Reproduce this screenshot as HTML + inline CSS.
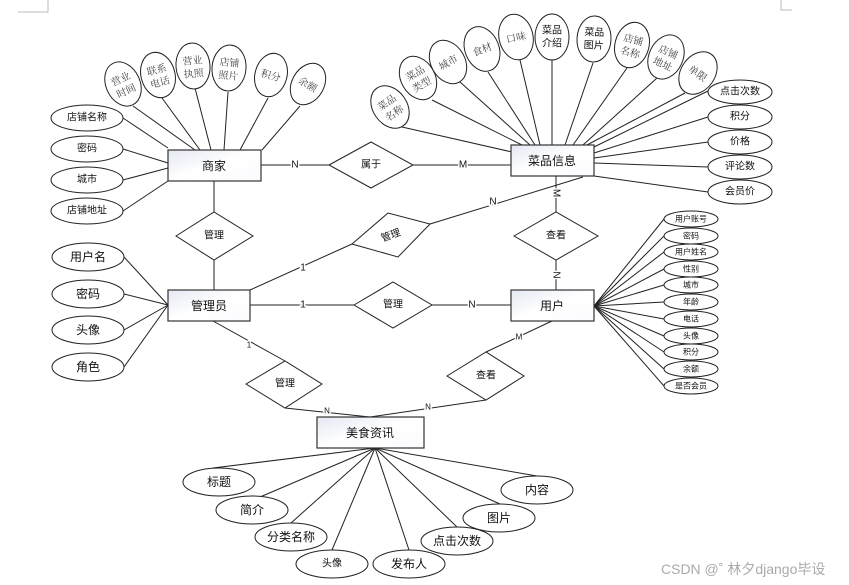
<!DOCTYPE html>
<html><head><meta charset="utf-8"><style>
html,body{margin:0;padding:0;background:#fff;}
svg{display:block;font-family:"Liberation Sans","Noto Sans CJK SC",sans-serif;}
.l{stroke:#222;stroke-width:1;fill:none}
.e{fill:#fff;stroke:#222;stroke-width:1}
.r{fill:url(#g);stroke:#333;stroke-width:1.2}
.d{fill:#fff;stroke:#222;stroke-width:1}
.t{font-size:10px;fill:#111;text-anchor:middle;dominant-baseline:central}
.s{font-family:"Liberation Serif","Noto Serif CJK SC",serif;font-size:10px;fill:#444;text-anchor:middle}
.b{font-size:12px;fill:#111;text-anchor:middle;dominant-baseline:central}
.c{font-size:10px;fill:#111;text-anchor:middle;dominant-baseline:central;paint-order:stroke;stroke:#fff;stroke-width:3px}
</style></head><body>
<svg width="849" height="585" viewBox="0 0 849 585">
<defs><linearGradient id="g" x1="0" y1="0" x2="1" y2="1"><stop offset="0" stop-color="#e4e8f2"/><stop offset="0.5" stop-color="#fff"/><stop offset="1" stop-color="#fafbfd"/></linearGradient></defs>
<path d="M18 12H48V0" class="l" stroke="#bbb" style="stroke:#bbb"/>
<path d="M781 0V10H792" style="stroke:#bbb;fill:none"/>
<!-- lines -->
<g class="l">
<line x1="261" y1="165" x2="329" y2="165"/><line x1="413" y1="165" x2="511" y2="165"/>
<line x1="214" y1="181" x2="214" y2="212"/><line x1="214" y1="260" x2="214" y2="290"/>
<line x1="250" y1="290" x2="352" y2="244"/><line x1="430" y1="224" x2="583" y2="177"/>
<line x1="556" y1="176" x2="556" y2="212"/><line x1="556" y1="260" x2="556" y2="290"/>
<line x1="250" y1="305" x2="354" y2="305"/><line x1="432" y1="305" x2="511" y2="305"/>
<line x1="213" y1="321" x2="285" y2="361"/><line x1="285" y1="408" x2="370" y2="417"/>
<line x1="552" y1="321" x2="486" y2="352"/><line x1="486" y1="400" x2="370" y2="417"/>
<!-- 商家 attrs -->
<line x1="123" y1="118" x2="168" y2="148"/><line x1="123" y1="149" x2="168" y2="163"/><line x1="123" y1="180" x2="168" y2="168"/><line x1="123" y1="211" x2="168" y2="181"/>
<line x1="133" y1="106" x2="195" y2="150"/><line x1="162" y1="98" x2="200" y2="150"/><line x1="195" y1="88" x2="211" y2="150"/><line x1="228" y1="92" x2="224" y2="150"/><line x1="268" y1="98" x2="240" y2="150"/><line x1="300" y1="106" x2="262" y2="150"/>
<!-- 菜品 attrs -->
<line x1="402" y1="127" x2="512" y2="152"/><line x1="432" y1="100" x2="522" y2="145"/><line x1="460" y1="82" x2="530" y2="145"/><line x1="488" y1="72" x2="535" y2="145"/><line x1="520" y1="60" x2="540" y2="145"/><line x1="552" y1="60" x2="552" y2="145"/><line x1="593" y1="63" x2="565" y2="145"/><line x1="627" y1="68" x2="573" y2="145"/><line x1="657" y1="78" x2="583" y2="145"/><line x1="685" y1="93" x2="587" y2="145"/>
<line x1="710" y1="90" x2="594" y2="147"/><line x1="708" y1="117" x2="594" y2="153"/><line x1="708" y1="142" x2="594" y2="158"/><line x1="708" y1="167" x2="594" y2="163"/><line x1="708" y1="192" x2="594" y2="176"/>
<!-- 管理员 attrs -->
<line x1="124" y1="257" x2="168" y2="305"/><line x1="124" y1="294" x2="168" y2="305"/><line x1="124" y1="330" x2="168" y2="305"/><line x1="124" y1="367" x2="168" y2="305"/>
<!-- 用户 attrs -->
<line x1="594" y1="306" x2="664" y2="219"/><line x1="594" y1="306" x2="664" y2="236"/><line x1="594" y1="306" x2="664" y2="252"/><line x1="594" y1="306" x2="664" y2="269"/><line x1="594" y1="306" x2="664" y2="285"/><line x1="594" y1="306" x2="664" y2="302"/><line x1="594" y1="306" x2="664" y2="319"/><line x1="594" y1="306" x2="664" y2="336"/><line x1="594" y1="306" x2="664" y2="352"/><line x1="594" y1="306" x2="664" y2="369"/><line x1="594" y1="306" x2="664" y2="386"/>
<!-- 美食 attrs -->
<line x1="375" y1="448" x2="213" y2="468"/><line x1="375" y1="448" x2="260" y2="497"/><line x1="375" y1="448" x2="291" y2="523"/><line x1="375" y1="448" x2="332" y2="550"/><line x1="375" y1="448" x2="409" y2="550"/><line x1="375" y1="448" x2="457" y2="527"/><line x1="375" y1="448" x2="500" y2="504"/><line x1="375" y1="448" x2="537" y2="476"/>
</g>
<!-- cardinalities -->
<text class="c" x="295" y="165">N</text><text class="c" x="463" y="165">M</text>
<text class="c" x="303" y="268">1</text><text class="c" x="493" y="202">N</text>
<text class="c" x="556" y="193" transform="rotate(90 556 193)">M</text><text class="c" x="556" y="275" transform="rotate(90 556 275)">N</text>
<text class="c" x="303" y="305">1</text><text class="c" x="472" y="305">N</text>
<text class="c" x="249" y="345" style="font-size:8px">1</text><text class="c" x="327" y="411" style="font-size:8px">N</text>
<text class="c" x="519" y="337" style="font-size:8px">M</text><text class="c" x="428" y="407" style="font-size:8px">N</text>
<!-- diamonds -->
<polygon class="d" points="329,165 371,142 413,165 371,188"/><text class="t" x="371" y="165">属于</text>
<polygon class="d" points="176,236 214,212 253,236 214,260"/><text class="t" x="214" y="236">管理</text>
<polygon class="d" points="352,244 388,213 430,224 398,257"/><text class="t" x="391" y="236" transform="rotate(-20 391 236)">管理</text>
<polygon class="d" points="514,236 556,212 598,236 556,260"/><text class="t" x="556" y="236">查看</text>
<polygon class="d" points="354,305 393,282 432,305 393,328"/><text class="t" x="393" y="305">管理</text>
<polygon class="d" points="246,384 285,361 322,384 285,408"/><text class="t" x="285" y="384">管理</text>
<polygon class="d" points="447,376 486,352 524,376 486,400"/><text class="t" x="486" y="376">查看</text>
<!-- entities -->
<rect class="r" x="168" y="150" width="93" height="31"/><text class="b" x="214" y="166">商家</text>
<rect class="r" x="511" y="145" width="83" height="31"/><text class="b" x="552" y="161">菜品信息</text>
<rect class="r" x="168" y="290" width="82" height="31"/><text class="b" x="209" y="306">管理员</text>
<rect class="r" x="511" y="290" width="83" height="31"/><text class="b" x="552" y="306">用户</text>
<rect class="r" x="317" y="417" width="107" height="31"/><text class="b" x="370" y="433">美食资讯</text>
<!-- 商家 left attrs -->
<g><ellipse class="e" cx="87" cy="118" rx="36" ry="13"/><text class="t" x="87" y="118">店铺名称</text>
<ellipse class="e" cx="87" cy="149" rx="36" ry="13"/><text class="t" x="87" y="149">密码</text>
<ellipse class="e" cx="87" cy="180" rx="36" ry="13"/><text class="t" x="87" y="180">城市</text>
<ellipse class="e" cx="87" cy="211" rx="36" ry="13"/><text class="t" x="87" y="211">店铺地址</text></g>
<!-- rotated attrs -->
<g transform="translate(123,84) rotate(-25)"><ellipse class="e" rx="17" ry="23"/><text class="s" y="-2">营业</text><text class="s" y="11">时间</text></g>
<g transform="translate(158,75) rotate(-15)"><ellipse class="e" rx="17" ry="23"/><text class="s" y="-2">联系</text><text class="s" y="11">电话</text></g>
<g transform="translate(193,66) rotate(-5)"><ellipse class="e" rx="17" ry="23"/><text class="s" y="-2">营业</text><text class="s" y="11">执照</text></g>
<g transform="translate(229,68) rotate(5)"><ellipse class="e" rx="17" ry="23"/><text class="s" y="-2">店铺</text><text class="s" y="11">照片</text></g>
<g transform="translate(271,75) rotate(15)"><ellipse class="e" rx="16" ry="22"/><text class="s" y="4">积分</text></g>
<g transform="translate(308,84) rotate(30)"><ellipse class="e" rx="16" ry="22"/><text class="s" y="4">余额</text></g>
<g transform="translate(390,107) rotate(-35)"><ellipse class="e" rx="17" ry="23"/><text class="s" y="-2">菜品</text><text class="s" y="11">名称</text></g>
<g transform="translate(418,78) rotate(-30)"><ellipse class="e" rx="17" ry="23"/><text class="s" y="-2">菜品</text><text class="s" y="11">类型</text></g>
<g transform="translate(448,62) rotate(-30)"><ellipse class="e" rx="17" ry="23"/><text class="s" y="4">城市</text></g>
<g transform="translate(482,49) rotate(-22)"><ellipse class="e" rx="17" ry="23"/><text class="s" y="4">食材</text></g>
<g transform="translate(516,37) rotate(-12)"><ellipse class="e" rx="17" ry="23"/><text class="s" y="4">口味</text></g>
<g transform="translate(552,37)"><ellipse class="e" rx="17" ry="23"/><text class="t" y="-6">菜品</text><text class="t" y="7">介绍</text></g>
<g transform="translate(594,39) rotate(3)"><ellipse class="e" rx="17" ry="23"/><text class="t" y="-6">菜品</text><text class="t" y="7">图片</text></g>
<g transform="translate(632,45) rotate(15)"><ellipse class="e" rx="17" ry="23"/><text class="s" y="-2">店铺</text><text class="s" y="11">名称</text></g>
<g transform="translate(666,57) rotate(25)"><ellipse class="e" rx="17" ry="23"/><text class="s" y="-2">店铺</text><text class="s" y="11">地址</text></g>
<g transform="translate(698,73) rotate(35)"><ellipse class="e" rx="17" ry="23"/><text class="s" y="4">单限</text></g>
<!-- 菜品 right -->
<g><ellipse class="e" cx="740" cy="92" rx="32" ry="12"/><text class="t" x="740" y="92">点击次数</text>
<ellipse class="e" cx="740" cy="117" rx="32" ry="12"/><text class="t" x="740" y="117">积分</text>
<ellipse class="e" cx="740" cy="142" rx="32" ry="12"/><text class="t" x="740" y="142">价格</text>
<ellipse class="e" cx="740" cy="167" rx="32" ry="12"/><text class="t" x="740" y="167">评论数</text>
<ellipse class="e" cx="740" cy="192" rx="32" ry="12"/><text class="t" x="740" y="192">会员价</text></g>
<!-- 管理员 attrs -->
<g><ellipse class="e" cx="88" cy="257" rx="36" ry="14"/><text class="t" x="88" y="257" style="font-size:12px">用户名</text>
<ellipse class="e" cx="88" cy="294" rx="36" ry="14"/><text class="t" x="88" y="294" style="font-size:12px">密码</text>
<ellipse class="e" cx="88" cy="330" rx="36" ry="14"/><text class="t" x="88" y="330" style="font-size:12px">头像</text>
<ellipse class="e" cx="88" cy="367" rx="36" ry="14"/><text class="t" x="88" y="367" style="font-size:12px">角色</text></g>
<!-- 用户 attrs -->
<g style="font-size:8px">
<ellipse class="e" cx="691" cy="219" rx="27" ry="8"/><text class="t" x="691" y="219" style="font-size:8px">用户账号</text>
<ellipse class="e" cx="691" cy="236" rx="27" ry="8"/><text class="t" x="691" y="236" style="font-size:8px">密码</text>
<ellipse class="e" cx="691" cy="252" rx="27" ry="8"/><text class="t" x="691" y="252" style="font-size:8px">用户姓名</text>
<ellipse class="e" cx="691" cy="269" rx="27" ry="8"/><text class="t" x="691" y="269" style="font-size:8px">性别</text>
<ellipse class="e" cx="691" cy="285" rx="27" ry="8"/><text class="t" x="691" y="285" style="font-size:8px">城市</text>
<ellipse class="e" cx="691" cy="302" rx="27" ry="8"/><text class="t" x="691" y="302" style="font-size:8px">年龄</text>
<ellipse class="e" cx="691" cy="319" rx="27" ry="8"/><text class="t" x="691" y="319" style="font-size:8px">电话</text>
<ellipse class="e" cx="691" cy="336" rx="27" ry="8"/><text class="t" x="691" y="336" style="font-size:8px">头像</text>
<ellipse class="e" cx="691" cy="352" rx="27" ry="8"/><text class="t" x="691" y="352" style="font-size:8px">积分</text>
<ellipse class="e" cx="691" cy="369" rx="27" ry="8"/><text class="t" x="691" y="369" style="font-size:8px">余额</text>
<ellipse class="e" cx="691" cy="386" rx="27" ry="8"/><text class="t" x="691" y="386" style="font-size:8px">是否会员</text></g>
<!-- 美食 attrs -->
<g>
<ellipse class="e" cx="219" cy="482" rx="36" ry="14"/><text class="t" x="219" y="482" style="font-size:12px">标题</text>
<ellipse class="e" cx="252" cy="510" rx="36" ry="14"/><text class="t" x="252" y="510" style="font-size:12px">简介</text>
<ellipse class="e" cx="291" cy="537" rx="36" ry="14"/><text class="t" x="291" y="537" style="font-size:12px">分类名称</text>
<ellipse class="e" cx="332" cy="564" rx="36" ry="14"/><text class="t" x="332" y="564">头像</text>
<ellipse class="e" cx="409" cy="564" rx="36" ry="14"/><text class="t" x="409" y="564" style="font-size:12px">发布人</text>
<ellipse class="e" cx="457" cy="541" rx="36" ry="14"/><text class="t" x="457" y="541" style="font-size:12px">点击次数</text>
<ellipse class="e" cx="499" cy="518" rx="36" ry="14"/><text class="t" x="499" y="518" style="font-size:12px">图片</text>
<ellipse class="e" cx="537" cy="490" rx="36" ry="14"/><text class="t" x="537" y="490" style="font-size:12px">内容</text></g>
<text x="661" y="574" style="font-size:14px;fill:#aaa">CSDN @˚ 林夕django毕设</text>
</svg>
</body></html>
